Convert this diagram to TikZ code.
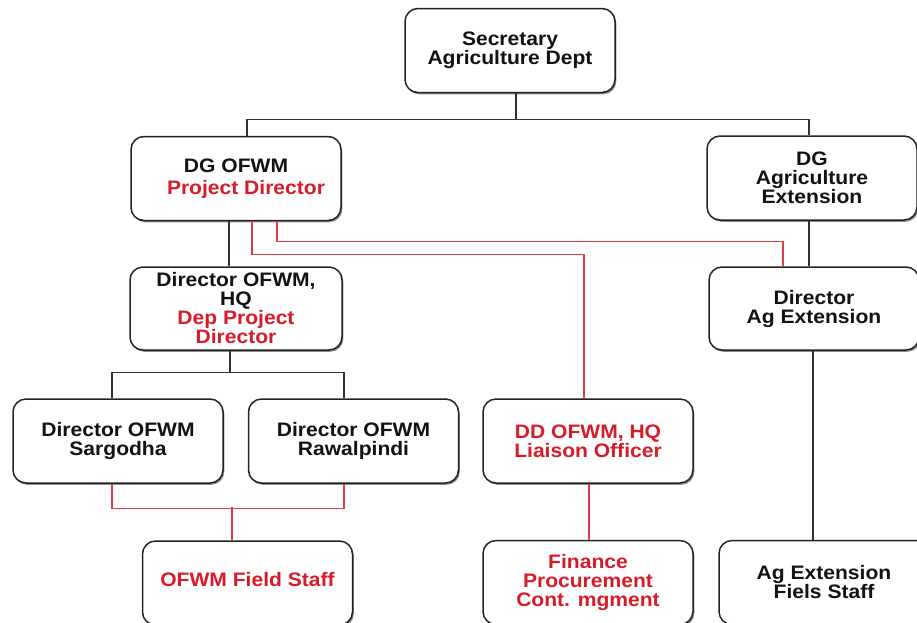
\documentclass[tikz,border=0pt]{standalone}
\usepackage{fontspec}
\setmainfont{Liberation Sans}[FakeStretch=1.08]
\usetikzlibrary{shadows}
\definecolor{boxline}{RGB}{35,35,35}
\definecolor{inkblack}{RGB}{18,18,18}
\definecolor{inkred}{RGB}{214,28,40}
\definecolor{linkblack}{RGB}{50,50,50}
\definecolor{linkred}{RGB}{222,60,70}
\begin{document}
\begin{tikzpicture}[x=1pt,y=-1pt,
  box/.style={draw=boxline, line width=1.5pt, rounded corners=13pt, fill=white,
    minimum width=210pt, minimum height=84pt, inner sep=0pt, align=center,
    font=\fontsize{19.5}{19}\selectfont\bfseries, text=inkblack,
    drop shadow={shadow xshift=1.3pt, shadow yshift=-1.8pt, fill=black, opacity=0.45}},
  redtext/.style={text=inkred},
  blackline/.style={draw=linkblack, line width=1.3pt},
  redline/.style={draw=linkred, line width=1.1pt}]
\useasboundingbox (0,0) rectangle (917,622);
\clip (0,0) rectangle (917,622);

% boxes
\node[box] (sec) at (510,50.5) {Secretary\\Agriculture Dept};
\node[box] (dgofwm) at (236,178.5) {DG OFWM\\[3pt]\hspace*{20pt}{\color{inkred}Project Director}};
\node[box] (dgext) at (812,178) {DG\\Agriculture\\Extension};
\node[box, minimum width=212pt, minimum height=83pt] (dirhq) at (236,308.5)
  {Director OFWM,\\HQ\\{\color{inkred}Dep Project}\\{\color{inkred}Director}};
\node[box, minimum height=83pt] (dirext) at (814,308.5) {Director\\Ag Extension};
\node[box] (sarg) at (118,441) {Director OFWM\\Sargodha};
\node[box] (rawa) at (353.5,441) {Director OFWM\\Rawalpindi};
\node[box, redtext] (dd) at (588,441) {DD OFWM, HQ\\Liaison Officer};
\node[box, redtext, text height=14pt, text depth=8pt] (field) at (247.5,583) {OFWM Field Staff};
\node[box, redtext] (finance) at (588,582.5) {Finance\\Procurement\\Cont. mgment};
\node[box] (agfs) at (824,582.5) {Ag Extension\\Fiels Staff};

% reporting lines
\draw[blackline] ([xshift=6pt]sec.south) -- ++(0,26) coordinate (topbus);
\draw[blackline] ([xshift=11pt]dgofwm.north) |- (topbus) -| ([xshift=-3pt]dgext.north);
\draw[blackline] ([xshift=-7pt]dgofwm.south) -- ([xshift=-7pt]dirhq.north);
\draw[blackline] ([xshift=-3pt]dgext.south) -- ([xshift=-5pt]dirext.north);
\draw[blackline] ([xshift=-6pt]dirhq.south) -- ++(0,22) coordinate (hqbus);
\draw[blackline] ([xshift=-6pt]sarg.north) |- (hqbus) -| ([xshift=-9.5pt]rawa.north);
\draw[blackline] ([xshift=-1pt]dirext.south) -- ([xshift=-11pt]agfs.north);

% project lines
\draw[redline] ([xshift=16pt]dgofwm.south) -- ++(0,33) -| ([xshift=-4pt]dd.north);
\draw[redline] ([xshift=41pt]dgofwm.south) -- ++(0,20) -| ([xshift=-31pt]dirext.north);
\draw[redline] ([xshift=-6pt]sarg.south) -- ++(0,25) -| ([xshift=-9.5pt]rawa.south);
\draw[redline] ([xshift=-15.5pt]field.north) -- ++(0,-33);
\draw[redline] ([xshift=1pt]dd.south) -- ([xshift=1pt]finance.north);
\end{tikzpicture}
\end{document}
